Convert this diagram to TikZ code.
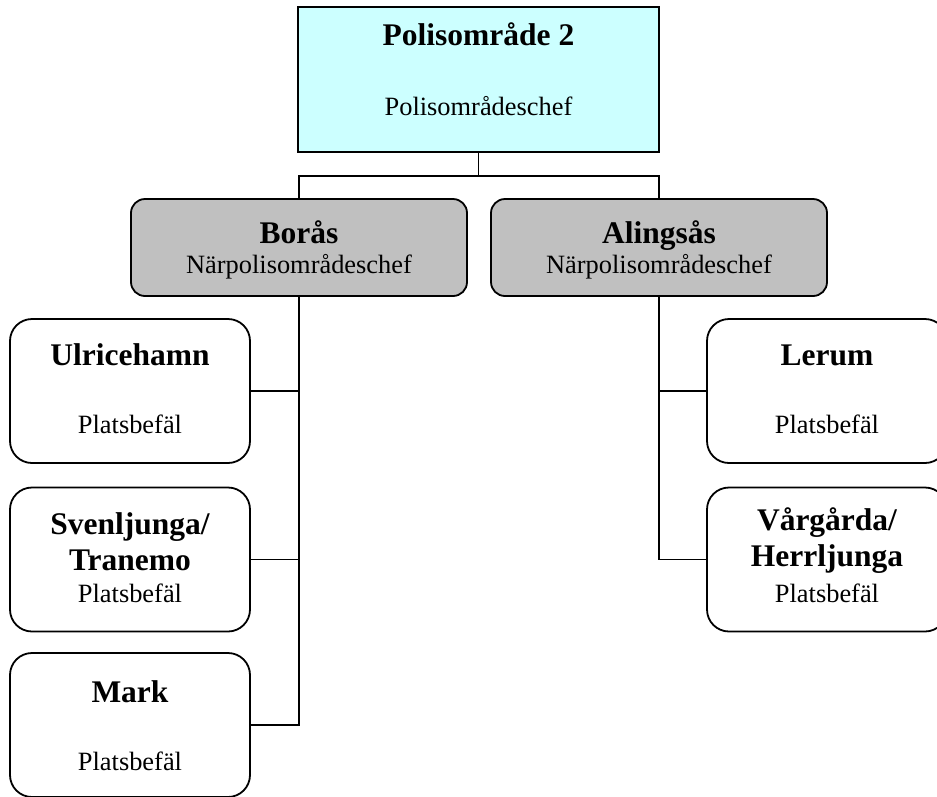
\documentclass[tikz,border=0pt]{standalone}
\usepackage{fontspec}
\setmainfont{Liberation Serif}
\usetikzlibrary{calc}
\definecolor{cyan1}{RGB}{204, 255, 255}
\definecolor{gray1}{RGB}{192, 192, 192}

\tikzset{
  topbox/.style={rectangle, draw=black, fill=cyan1, minimum width=361pt, minimum height=145pt, inner sep=0pt},
  midbox/.style={rectangle, rounded corners=14pt, draw=black, fill=gray1, minimum width=336pt, minimum height=97pt, inner sep=0pt},
  leafbox/.style={rectangle, rounded corners=22pt, draw=black, fill=white, minimum width=240pt, minimum height=144pt, inner sep=0pt},
  head/.style={anchor=base, inner sep=0pt, font=\fontsize{31.5}{36}\selectfont\bfseries},
  sub/.style={anchor=base, inner sep=0pt, font=\fontsize{26.4}{30}\selectfont}
}

\begin{document}
\begin{tikzpicture}[x=1pt, y=-1pt, line width =1.8pt]
  \useasboundingbox (0,0) rectangle (937,796);

  \node[topbox] (n1) at (478.5,79.5) {};
  \node[head] (t1) at (478.5,45) {Polisområde 2};
  \node[sub] (s1) at (478.5,115) {Polisområdeschef};

  \node[midbox] (n2) at (299,247.5) {};
  \node[head] (t2) at (299,243) {Borås};
  \node[sub] (s2) at (299,273) {Närpolisområdeschef};

  \node[midbox] (n3) at (659,247.5) {};
  \node[head] (t3) at (659,243) {Alingsås};
  \node[sub] (s3) at (659,273) {Närpolisområdeschef};

  % Borås
  \node[leafbox] (n4) at (130,391) {};
  \node[head] (t4) at (130,365) {Ulricehamn};
  \node[sub] (s4) at (130,433) {Platsbefäl};

  \node[leafbox] (n5) at (130,559.5) {};
  \node[head] (t5a) at (130,534) {Svenljunga/};
  \node[head] (t5b) at (130,570) {Tranemo};
  \node[sub] (s5) at (130,602) {Platsbefäl};

  \node[leafbox] (n6) at (130,725) {};
  \node[head] (t6) at (130,702) {Mark};
  \node[sub] (s6) at (130,770) {Platsbefäl};

  % Alingsås
  \node[leafbox] (n7) at (827,391) {};
  \node[head] (t7) at (827,365) {Lerum};
  \node[sub] (s7) at (827,433) {Platsbefäl};

  \node[leafbox] (n8) at (827,559.5) {};
  \node[head] (t8a) at (827,530) {Vårgårda/};
  \node[head] (t8b) at (827,566) {Herrljunga};
  \node[sub] (s8) at (827,602) {Platsbefäl};

  \coordinate (c1) at ($(n1.south)+(0,23)$);
  \foreach \to in {n2, n3}
    \draw (n1.south) -- (c1) -| (\to.north);
  \foreach \to in {n4, n5, n6}
    \draw (n2.south) |- (\to.east);
  \foreach \to in {n7, n8}
    \draw (n3.south) |- (\to.west);
\end{tikzpicture}
\end{document}
